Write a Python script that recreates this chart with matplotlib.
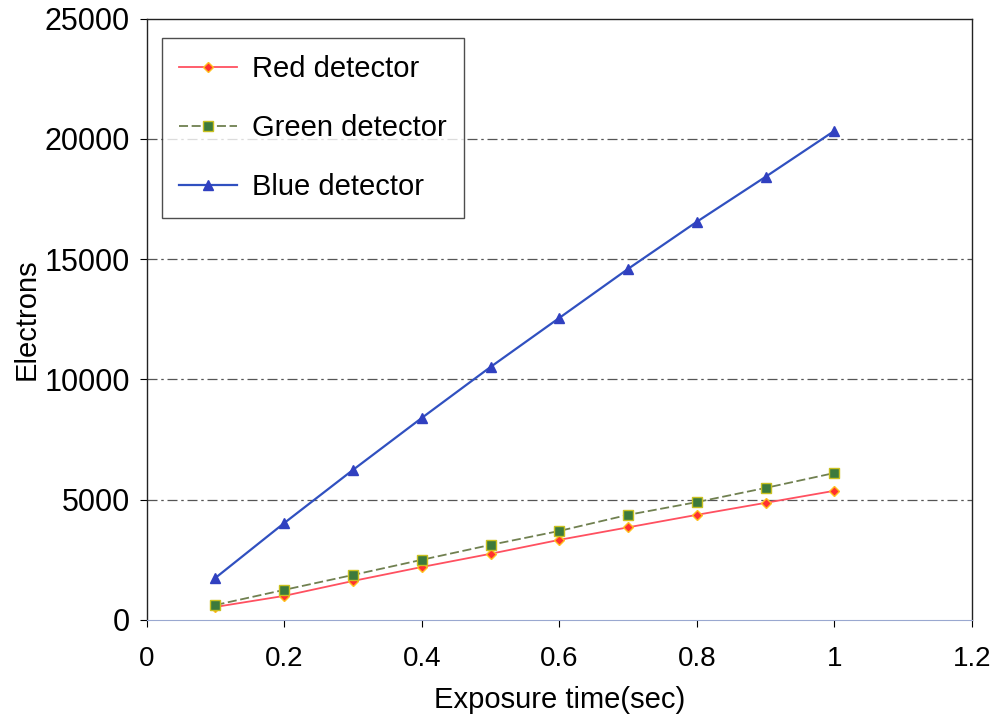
import matplotlib

matplotlib.use("Agg")
import matplotlib.pyplot as plt

exposure = [0.1, 0.2, 0.3, 0.4, 0.5, 0.6, 0.7, 0.8, 0.9, 1.0]
red = [540, 1000, 1620, 2200, 2750, 3330, 3850, 4370, 4870, 5370]
green = [620, 1250, 1870, 2500, 3120, 3700, 4370, 4900, 5490, 6110]
blue = [1750, 4030, 6240, 8400, 10520, 12560, 14600, 16560, 18430, 20340]

x_ticks = [0, 0.2, 0.4, 0.6, 0.8, 1.0, 1.2]
x_tick_labels = ["0", "0.2", "0.4", "0.6", "0.8", "1", "1.2"]
y_ticks = [0, 5000, 10000, 15000, 20000, 25000]

plt.rcParams["font.family"] = ["Liberation Sans", "DejaVu Sans"]

fig = plt.figure(figsize=(9.98, 7.2), dpi=100)
ax = fig.add_axes([0.147, 0.139, 0.827, 0.835])

for y in y_ticks[1:-1]:
    ax.axhline(y, color="#555555", lw=0.9, ls=(0, (8, 3, 2, 3)), zorder=1)

ax.plot(exposure, red, color="#ff5060", lw=1.3, marker="D", ms=5,
        mfc="#ff3030", mec="#ffc020", label="Red detector", zorder=3)
ax.plot(exposure, green, color="#708050", lw=1.3, ls=(0, (5, 2)), marker="s", ms=7,
        mfc="#3c7a3c", mec="#c8c020", label="Green detector", zorder=4)
ax.plot(exposure, blue, color="#3050c0", lw=1.6, marker="^", ms=7,
        mfc="#3040c0", mec="#3040c0", label="Blue detector", zorder=5)

ax.set_xlim(0, 1.2)
ax.set_ylim(0, 25000)
ax.set_xticks(x_ticks)
ax.set_xticklabels(x_tick_labels)
ax.set_yticks(y_ticks)
ax.tick_params(axis="both", direction="out", length=5, width=0.8)
ax.tick_params(axis="x", labelsize=20, pad=14)
ax.tick_params(axis="y", labelsize=22, pad=7)

for side in ["left", "top", "right"]:
    ax.spines[side].set_color("#222222")
    ax.spines[side].set_linewidth(1.0)
ax.spines["bottom"].set_color("#9aa8d0")

ax.set_xlabel("Exposure time(sec)", fontsize=21, labelpad=10)
ax.set_ylabel("Electrons", fontsize=21, labelpad=3)

leg = ax.legend(loc="upper left", bbox_to_anchor=(0.018, 0.968), fontsize=21,
                frameon=True, fancybox=False, edgecolor="#222222",
                handlelength=2.0, labelspacing=1.05, borderpad=0.6,
                handletextpad=0.5, borderaxespad=0)
leg.get_frame().set_linewidth(1.0)

fig.savefig("out.png", dpi=100)
